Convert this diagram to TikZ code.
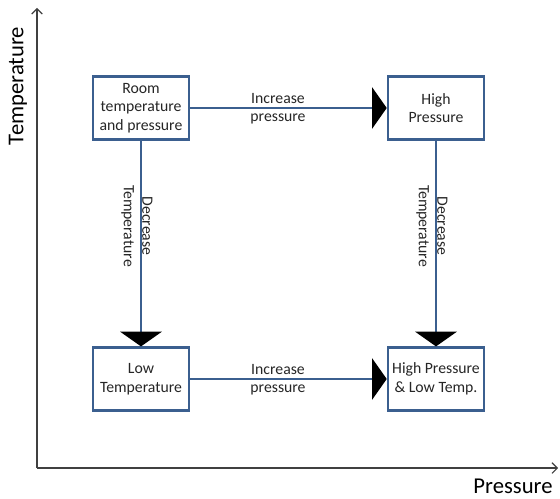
\documentclass[tikz,border=0pt]{standalone}
\usepackage{fontspec}
\setmainfont{Carlito}
\usetikzlibrary{arrows.meta}
\definecolor{boxblue}{HTML}{3B5F8F}
\definecolor{axisgray}{HTML}{404040}
\begin{document}
\begin{tikzpicture}[x=0.75pt,y=-0.75pt,
  box/.style={draw=boxblue, line width=1.9pt, fill=white, minimum width=72pt, minimum height=47pt, align=center, inner sep=1pt, font=\fontsize{11.8}{13.9}\selectfont, text=black!85},
  conn/.style={draw=boxblue, line width=1.5pt, -{Triangle[length=11pt,width=31pt,color=black]}},
  lab/.style={align=center, font=\fontsize{11.8}{13.9}\selectfont, text=black!85, inner sep=0pt},
  axis/.style={draw=axisgray, line width=0.8pt, -{Straight Barb[length=4pt,width=8pt]}},
  axlab/.style={font=\fontsize{17}{20}\selectfont, text=black, inner sep=0pt}]
\useasboundingbox (0,0) rectangle (560,499);
\fill[white] (0,0) rectangle (560,499);
% axes
\coordinate (o) at (37,468);
\coordinate (ytop) at (37,8);
\coordinate (xend) at (558,468);
\draw[axis] (o) -- (ytop);
\draw[axis] (o) -- (xend);
\node[axlab, rotate=90] (tlab) at (18,86) {Temperature};
\node[axlab] (plab) at (513,486) {Pressure};
% boxes
\node[box] (room) at (141,108) {Room\\temperature\\and pressure};
\node[box] (hp) at (436,108) {High\\Pressure};
\node[box] (lt) at (141,379) {Low\\Temperature};
\node[box] (hplt) at (436,379) {High Pressure\\\& Low Temp.};
% connectors
\draw[conn] (room) -- (hp);
\draw[conn] (lt) -- (hplt);
\draw[conn] (room) -- (lt);
\draw[conn] (hp) -- (hplt);
% labels
\node[lab] (l1) at (278,108.5) {Increase\\pressure};
\node[lab] (l2) at (278,379.5) {Increase\\pressure};
\node[lab, rotate=-90] (l3) at (137,226) {Decrease\\Temperature};
\node[lab, rotate=-90] (l4) at (432,226) {Decrease\\Temperature};
\end{tikzpicture}
\end{document}
